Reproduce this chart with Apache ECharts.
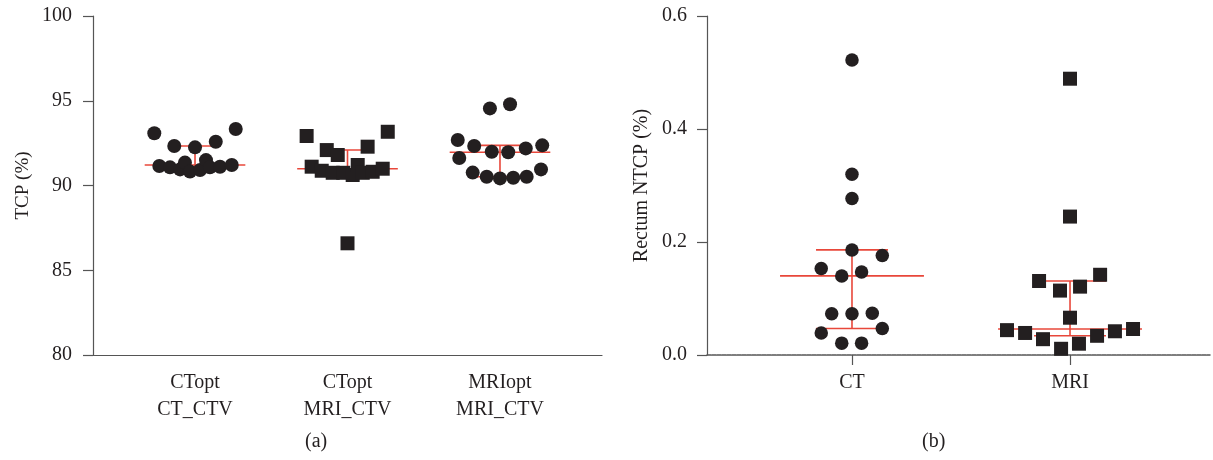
<!DOCTYPE html>
<html>
<head>
<meta charset="utf-8">
<script src="https://cdn.jsdelivr.net/npm/echarts@6/dist/echarts.min.js"></script>
<style>
html,body{margin:0;padding:0;background:#fff;}
#chart{width:1213px;height:460px;}
</style>
</head>
<body>
<div id="chart"></div>
<script>
// ---------- Data ----------
const tcpCategories = ['CTopt\nCT_CTV', 'CTopt\nMRI_CTV', 'MRIopt\nMRI_CTV'];
const tcpTicks = [80, 85, 90, 95, 100];

// Panel (a): TCP values (%) and beeswarm horizontal offsets (category units)
const tcpCToptCT = [93.08, 92.33, 92.25, 92.58, 93.33, 91.15, 91.07, 90.95, 91.35, 90.82, 90.91, 91.50, 91.07, 91.11, 91.21];
const offCToptCT = [-0.267, -0.136, 0, 0.136, 0.267, -0.234, -0.164, -0.098, -0.066, -0.033, 0.033, 0.072, 0.098, 0.164, 0.241];

const tcpCToptMRI = [92.92, 92.09, 91.80, 92.29, 93.17, 91.11, 90.87, 90.75, 90.75, 90.62, 91.21, 90.75, 90.81, 90.99, 86.59];
const offCToptMRI = [-0.268, -0.136, -0.064, 0.132, 0.264, -0.235, -0.169, -0.097, -0.028, 0.034, 0.067, 0.100, 0.165, 0.231, 0];

const tcpMRIoptMRI = [94.55, 94.79, 92.68, 92.33, 91.99, 91.96, 92.19, 92.37, 91.62, 90.76, 90.52, 90.42, 90.46, 90.52, 90.95];
const offMRIoptMRI = [-0.066, 0.066, -0.277, -0.169, -0.054, 0.054, 0.169, 0.277, -0.267, -0.179, -0.087, 0, 0.087, 0.175, 0.269];

// Panel (b): Rectum NTCP (%)
const ntcpCategories = ['CT', 'MRI'];
const ntcpTicks = [0, 0.2, 0.4, 0.6];
const ntcpCT = [0.522, 0.320, 0.277, 0.186, 0.176, 0.153, 0.140, 0.147, 0.073, 0.073, 0.074, 0.039, 0.047, 0.021, 0.021];
const offCT = [0, 0, 0, 0, 0.139, -0.141, -0.047, 0.044, -0.093, 0, 0.093, -0.141, 0.139, -0.047, 0.044];
const ntcpMRI = [0.489, 0.245, 0.131, 0.142, 0.114, 0.121, 0.066, 0.044, 0.039, 0.028, 0.011, 0.020, 0.034, 0.042, 0.046];
const offMRI = [0, 0, -0.142, 0.138, -0.046, 0.046, 0, -0.289, -0.206, -0.124, -0.041, 0.041, 0.124, 0.206, 0.289];

// ---------- Helpers ----------
function pts(center, vals, offs) { return vals.map((v, i) => [center + offs[i], v]); }
function quart(vals) {
  const s = vals.slice().sort((a, b) => a - b), n = s.length;
  const at = p => { const i = Math.floor(p) - 1, f = p - Math.floor(p); return s[i] + (f ? f * (s[i + 1] - s[i]) : 0); };
  return [at((n + 1) / 2), at((n + 1) / 4), at(3 * (n + 1) / 4)];
}
function statRow(center, vals) { return [center].concat(quart(vals)); }

const FONT = 'Liberation Serif';
const TXT = '#231f20';
const AX = '#555555';
const RED = '#e8473a';
const MARK = '#231f20';

function statSeries(xi, yi, data) {
  return {
    type: 'custom', xAxisIndex: xi, yAxisIndex: yi, z: 1, silent: true,
    data: data,
    renderItem: function (params, api) {
      const x = api.value(0), m = api.value(1), q1 = api.value(2), q3 = api.value(3);
      const hw = 0.33, hc = 0.165;
      const ln = (a, b) => ({ type: 'line', shape: { x1: a[0], y1: a[1], x2: b[0], y2: b[1] }, style: { stroke: RED, lineWidth: 1.6 } });
      return {
        type: 'group', children: [
          ln(api.coord([x - hw, m]), api.coord([x + hw, m])),
          ln(api.coord([x - hc, q1]), api.coord([x + hc, q1])),
          ln(api.coord([x - hc, q3]), api.coord([x + hc, q3])),
          ln(api.coord([x, q1]), api.coord([x, q3]))
        ]
      };
    }
  };
}
function scatter(xi, yi, data, symbol, size) {
  return { type: 'scatter', xAxisIndex: xi, yAxisIndex: yi, z: 3, symbol: symbol, symbolSize: size,
    itemStyle: { color: MARK, opacity: 1 }, data: data, silent: true };
}

const chart = echarts.init(document.getElementById('chart'), null, { renderer: 'canvas' });
chart.setOption({
  animation: false,
  backgroundColor: '#ffffff',
  textStyle: { fontFamily: FONT },
  grid: [
    { left: 93, right: 611, top: 16, bottom: 105, containLabel: false },
    { left: 707, right: 3, top: 16, bottom: 105, containLabel: false }
  ],
  xAxis: [
    { type: 'value', gridIndex: 0, min: 0.331, max: 3.669,
      axisLine: { show: true, onZero: false, lineStyle: { color: AX, width: 1.2 } },
      axisTick: { show: false }, splitLine: { show: false },
      axisLabel: { customValues: [1, 2, 3], formatter: v => tcpCategories[Math.round(v) - 1],
        color: TXT, fontFamily: FONT, fontSize: 20, lineHeight: 27, margin: 14 } },
    { type: 'value', gridIndex: 1, min: 0.335, max: 2.642,
      axisLine: { show: true, onZero: false, lineStyle: { color: AX, width: 1.5, type: [4, 1] } },
      axisTick: { show: true, customValues: [1, 2], length: 10, lineStyle: { color: AX, width: 1.2 } },
      splitLine: { show: false },
      axisLabel: { customValues: [1, 2], formatter: v => ntcpCategories[Math.round(v) - 1],
        color: TXT, fontFamily: FONT, fontSize: 20, margin: 18 } }
  ],
  yAxis: [
    { type: 'value', gridIndex: 0, min: tcpTicks[0], max: tcpTicks[tcpTicks.length - 1], interval: 5,
      name: 'TCP (%)', nameLocation: 'middle', nameGap: 60,
      nameTextStyle: { color: TXT, fontFamily: FONT, fontSize: 19 },
      axisLine: { show: true, lineStyle: { color: AX, width: 1.2 } },
      axisTick: { show: true, length: 10, lineStyle: { color: AX, width: 1.2 } },
      splitLine: { show: false },
      axisLabel: { color: TXT, fontFamily: FONT, fontSize: 20, margin: 21 } },
    { type: 'value', gridIndex: 1, min: ntcpTicks[0], max: ntcpTicks[ntcpTicks.length - 1], interval: 0.2,
      name: 'Rectum NTCP (%)', nameLocation: 'middle', nameGap: 55,
      nameTextStyle: { color: TXT, fontFamily: FONT, fontSize: 20 },
      axisLine: { show: true, lineStyle: { color: AX, width: 1.2 } },
      axisTick: { show: true, length: 10, lineStyle: { color: AX, width: 1.2 } },
      splitLine: { show: false },
      axisLabel: { color: TXT, fontFamily: FONT, fontSize: 20, margin: 20, formatter: v => v.toFixed(1) } }
  ],
  graphic: [
    { type: 'text', left: 305, top: 432, style: { text: '(a)', fill: TXT, font: '20px "Liberation Serif"', textAlign: 'center' } },
    { type: 'text', left: 922, top: 432, style: { text: '(b)', fill: TXT, font: '20px "Liberation Serif"', textAlign: 'center' } }
  ],
  series: [
    statSeries(0, 0, [statRow(1, tcpCToptCT), statRow(2, tcpCToptMRI), statRow(3, tcpMRIoptMRI)]),
    scatter(0, 0, pts(1, tcpCToptCT, offCToptCT), 'circle', 14),
    scatter(0, 0, pts(2, tcpCToptMRI, offCToptMRI), 'rect', 14),
    scatter(0, 0, pts(3, tcpMRIoptMRI, offMRIoptMRI), 'circle', 14),
    statSeries(1, 1, [statRow(1, ntcpCT), statRow(2, ntcpMRI)]),
    scatter(1, 1, pts(1, ntcpCT, offCT), 'circle', 13.5),
    scatter(1, 1, pts(2, ntcpMRI, offMRI), 'rect', 14)
  ]
});
</script>
</body>
</html>
